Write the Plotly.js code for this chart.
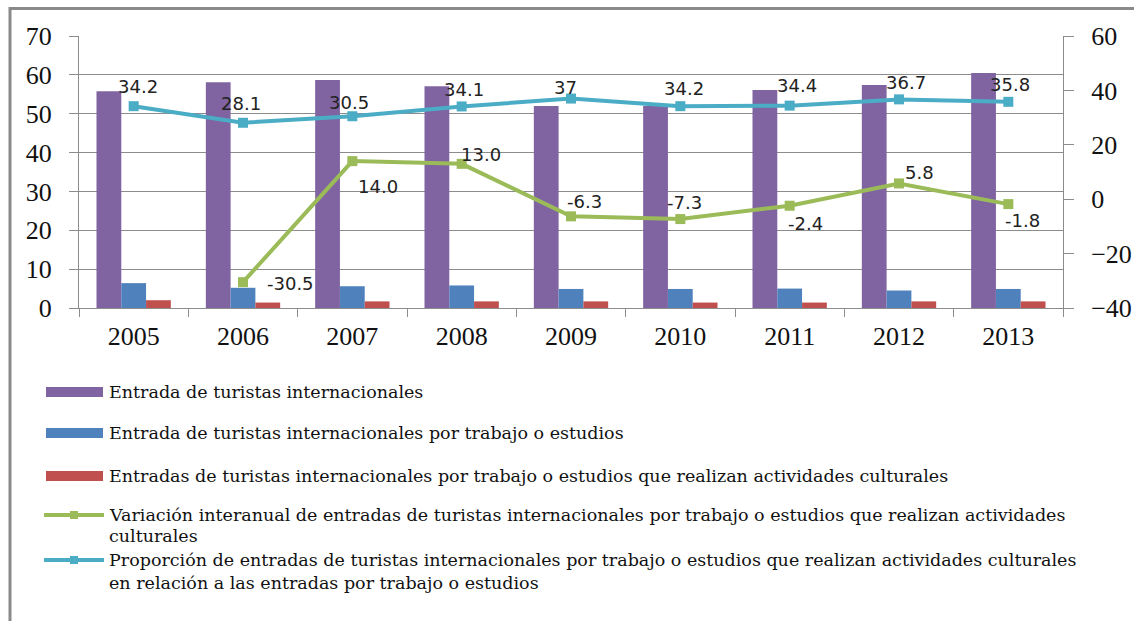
<!DOCTYPE html>
<html>
<head>
<meta charset="utf-8">
<script src="https://cdn.plot.ly/plotly-3.0.1.min.js"></script>
<style>html,body{margin:0;padding:0;background:#fff;}#chart{width:1134px;height:621px;}</style>
</head>
<body>
<div id="chart"></div>
<script>
// ---- data ----
const years = ["2005","2006","2007","2008","2009","2010","2011","2012","2013"];
const entradasTotales = [55.8, 58.1, 58.7, 57.1, 52.0, 52.0, 56.1, 57.4, 60.5];
const entradasTrabajo = [6.4, 5.2, 5.6, 5.8, 4.9, 4.9, 5.0, 4.5, 4.9];
const entradasCulturales = [2.0, 1.4, 1.7, 1.7, 1.7, 1.4, 1.4, 1.7, 1.7];
const variacion = [null, -30.5, 14.0, 13.0, -6.3, -7.3, -2.4, 5.8, -1.8];
const variacionLabels = ["", "-30.5", "14.0", "13.0", "-6.3", "-7.3", "-2.4", "5.8", "-1.8"];
const proporcion = [34.2, 28.1, 30.5, 34.1, 37, 34.2, 34.4, 36.7, 35.8];
const proporcionLabels = ["34.2", "28.1", "30.5", "34.1", "37", "34.2", "34.4", "36.7", "35.8"];
const legendNames = [
  "Entrada de turistas internacionales",
  "Entrada de turistas internacionales por trabajo o estudios",
  "Entradas de turistas internacionales por trabajo o estudios que realizan actividades culturales",
  "Variación interanual de entradas de turistas internacionales por trabajo o estudios que realizan actividades culturales",
  "Proporción de entradas de turistas internacionales por trabajo o estudios que realizan actividades culturales en relación a las entradas por trabajo o estudios"
];
const legendLines = [
  ["Entrada de turistas internacionales"],
  ["Entrada de turistas internacionales por trabajo o estudios"],
  ["Entradas de turistas internacionales por trabajo o estudios que realizan actividades culturales"],
  ["Variación interanual de entradas de turistas internacionales por trabajo o estudios que realizan actividades", "culturales"],
  ["Proporción de entradas de turistas internacionales por trabajo o estudios que realizan actividades culturales", "en relación a las entradas por trabajo o estudios"]
];

// ---- styles ----
const colors = ["#8064A2", "#4F81BD", "#C0504D", "#9BBB59", "#4BACC6"];
const gridCol = "#8c8c8c";
const serif = "Liberation Serif, Times New Roman, serif";
const legendFont = "DejaVu Serif, serif";
const labelFont = "DejaVu Sans, sans-serif";
// label offsets in pixels (dx, dy downward)
const propOffsets = [[4,-20],[-2,-19],[-3,-14],[2,-17],[-6,-11],[4,-18],[7,-20],[7,-17],[2,-17]];
const varOffsets = [[0,0],[47,1],[26,25],[19,-9],[13,-15],[4,-17],[16,18],[20,-11],[14,16]];

// plot area geometry (pixels)
const L = 79, R = 1063, T = 36, B = 308, W = 1134, H = 621;
const px = v => (v - L) / (R - L);
const py = v => (B - v) / (B - T);

const traces = [
  {type:"bar", x:years, y:entradasTotales, name:legendNames[0], marker:{color:colors[0]}, yaxis:"y"},
  {type:"bar", x:years, y:entradasTrabajo, name:legendNames[1], marker:{color:colors[1]}, yaxis:"y"},
  {type:"bar", x:years, y:entradasCulturales, name:legendNames[2], marker:{color:colors[2]}, yaxis:"y"},
  {type:"scatter", mode:"lines+markers", x:years, y:variacion, name:legendNames[3], yaxis:"y2",
   line:{color:colors[3], width:4}, marker:{symbol:"square", size:10, color:colors[3]}},
  {type:"scatter", mode:"lines+markers", x:years, y:proporcion, name:legendNames[4], yaxis:"y2",
   line:{color:colors[4], width:4}, marker:{symbol:"square", size:10, color:colors[4]}}
];

const annotations = [];
years.forEach((yr, i) => {
  // on a category axis the annotation x is the category index
  annotations.push({x:i, y:proporcion[i], xref:"x", yref:"y2", text:proporcionLabels[i], showarrow:false,
    xshift:propOffsets[i][0], yshift:-propOffsets[i][1], font:{family:labelFont, size:18, color:"#222"}});
  if (variacion[i] !== null) {
    annotations.push({x:i, y:variacion[i], xref:"x", yref:"y2", text:variacionLabels[i], showarrow:false,
      xshift:varOffsets[i][0], yshift:-varOffsets[i][1], font:{family:labelFont, size:18, color:"#222"}});
  }
});

// custom legend
const legendY = [[392],[433],[476],[515,536],[560,583]];
const shapes = [];
shapes.push({type:"rect", xref:"paper", yref:"paper", x0:px(10), x1:px(1145), y0:py(8.5), y1:py(640),
  line:{color:"#8a8a8a", width:3}, fillcolor:"rgba(0,0,0,0)", layer:"below"});
legendLines.forEach((lines, k) => {
  const yc = legendY[k][0];
  if (k < 3) {
    shapes.push({type:"rect", xref:"paper", yref:"paper", x0:px(46), x1:px(103), y0:py(yc+5), y1:py(yc-5),
      fillcolor:colors[k], line:{width:0}});
  } else {
    shapes.push({type:"line", xref:"paper", yref:"paper", x0:px(44), x1:px(104), y0:py(yc), y1:py(yc),
      line:{color:colors[k], width:4}});
    shapes.push({type:"rect", xref:"paper", yref:"paper", x0:px(70), x1:px(78), y0:py(yc+4), y1:py(yc-4),
      fillcolor:colors[k], line:{width:0}});
  }
  lines.forEach((t, j) => {
    annotations.push({xref:"paper", yref:"paper", x:px(108), y:py(legendY[k][j]), xanchor:"left", yanchor:"middle",
      text:t, showarrow:false, borderpad:0, font:{family:legendFont, size:17.5, color:"#111"}});
  });
});

const layout = {
  width:W, height:H,
  margin:{l:L, r:W-R, t:T, b:H-B, pad:0},
  paper_bgcolor:"#fff", plot_bgcolor:"#fff",
  showlegend:false,
  barmode:"group", bargap:0.32, bargroupgap:0,
  xaxis:{type:"category", range:[-0.5, years.length-0.5], autorange:false, tickson:"boundaries",
    ticks:"outside", ticklen:8, tickcolor:gridCol, tickangle:0,
    showline:true, linecolor:gridCol, linewidth:1, showgrid:false,
    tickfont:{family:serif, size:26, color:"#111"}, ticklabelstandoff:5},
  yaxis:{range:[0,70], autorange:false, dtick:10, showgrid:true, gridcolor:gridCol, gridwidth:1, zeroline:false,
    ticks:"outside", ticklen:9, tickcolor:gridCol, showline:true, linecolor:gridCol,
    tickfont:{family:serif, size:26, color:"#111"}, ticklabelstandoff:12},
  yaxis2:{overlaying:"y", side:"right", range:[-40,60], autorange:false, dtick:20, showgrid:false, zeroline:false,
    ticks:"outside", ticklen:10, tickcolor:gridCol, showline:true, linecolor:gridCol,
    tickfont:{family:serif, size:26, color:"#111"}, ticklabelstandoff:12},
  annotations:annotations,
  shapes:shapes
};

Plotly.newPlot("chart", traces, layout, {staticPlot:true, displayModeBar:false});
</script>
</body>
</html>
